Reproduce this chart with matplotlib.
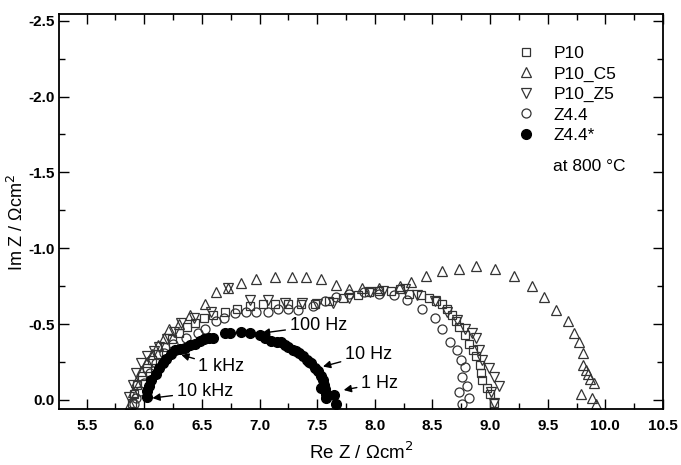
import matplotlib.pyplot as plt

plt.rcParams['font.family'] = ['Liberation Sans', 'DejaVu Sans']
plt.rcParams['axes.unicode_minus'] = False

# Re Z, -Im Z (Ohm cm2)
p10_re = [5.89, 5.91, 5.94, 5.98, 6.02, 6.07, 6.12, 6.18, 6.24, 6.30, 6.37, 6.44, 6.52, 6.60, 6.70,
          6.80, 6.92, 7.03, 7.13, 7.25, 7.36, 7.48, 7.60, 7.72, 7.85, 7.95, 8.04, 8.14, 8.22, 8.30,
          8.40, 8.47, 8.53, 8.58, 8.63, 8.67, 8.70, 8.73, 8.78, 8.82, 8.85, 8.88, 8.91, 8.92, 8.93,
          8.97, 9.00, 9.03]
p10_im = [-0.02, 0.04, 0.10, 0.16, 0.21, 0.26, 0.30, 0.35, 0.40, 0.44, 0.48, 0.51, 0.54, 0.56, 0.58,
          0.60, 0.62, 0.63, 0.63, 0.63, 0.63, 0.63, 0.65, 0.67, 0.69, 0.71, 0.72, 0.72, 0.73, 0.70,
          0.69, 0.67, 0.65, 0.63, 0.60, 0.56, 0.52, 0.48, 0.43, 0.37, 0.33, 0.29, 0.23, 0.18, 0.13,
          0.08, 0.04, -0.02]

p10c5_re = [5.88, 5.90, 5.93, 5.97, 6.02, 6.07, 6.12, 6.17, 6.21, 6.30, 6.40, 6.53, 6.62, 6.73, 6.84,
            6.97, 7.13, 7.28, 7.40, 7.53, 7.66, 7.78, 7.89, 8.04, 8.22, 8.31, 8.44, 8.58, 8.73, 8.88,
            9.04, 9.21, 9.36, 9.47, 9.57, 9.68, 9.73, 9.77, 9.81, 9.81, 9.83, 9.85, 9.87, 9.90, 9.79,
            9.88, 9.92]
p10c5_im = [-0.03, 0.05, 0.12, 0.19, 0.25, 0.30, 0.36, 0.41, 0.47, 0.50, 0.56, 0.63, 0.71, 0.74, 0.77,
            0.80, 0.81, 0.81, 0.81, 0.80, 0.76, 0.73, 0.74, 0.74, 0.75, 0.78, 0.82, 0.85, 0.86, 0.88,
            0.86, 0.82, 0.75, 0.68, 0.59, 0.52, 0.44, 0.38, 0.31, 0.23, 0.20, 0.17, 0.14, 0.11, 0.04,
            0.01, -0.03]

p10z5_re = [5.87, 5.90, 5.93, 5.97, 6.02, 6.08, 6.13, 6.20, 6.26, 6.32, 6.43, 6.58, 6.73, 6.92, 7.07,
            7.22, 7.37, 7.50, 7.64, 7.78, 7.96, 8.07, 8.26, 8.37, 8.52, 8.63, 8.71, 8.78, 8.84, 8.88,
            8.90, 8.93, 8.99, 9.03, 9.08, 9.01, 9.03]
p10z5_im = [0.02, 0.10, 0.18, 0.24, 0.29, 0.32, 0.35, 0.40, 0.45, 0.51, 0.54, 0.58, 0.74, 0.66, 0.66,
            0.64, 0.64, 0.63, 0.64, 0.67, 0.71, 0.72, 0.73, 0.69, 0.65, 0.58, 0.53, 0.47, 0.44, 0.41,
            0.33, 0.26, 0.21, 0.15, 0.09, 0.05, -0.02]

z44_re = [5.91, 5.93, 5.96, 6.00, 6.05, 6.10, 6.17, 6.25, 6.36, 6.47, 6.53, 6.62, 6.69, 6.79, 6.88,
          6.97, 7.07, 7.16, 7.25, 7.33, 7.46, 7.57, 7.66, 7.78, 7.91, 8.04, 8.17, 8.28, 8.41, 8.52,
          8.58, 8.65, 8.71, 8.75, 8.78, 8.76, 8.80, 8.73, 8.82, 8.76]
z44_im = [-0.03, 0.01, 0.06, 0.11, 0.18, 0.24, 0.31, 0.37, 0.41, 0.44, 0.47, 0.52, 0.54, 0.57, 0.58,
          0.58, 0.58, 0.60, 0.60, 0.59, 0.62, 0.65, 0.68, 0.70, 0.71, 0.70, 0.69, 0.66, 0.60, 0.54,
          0.47, 0.38, 0.33, 0.26, 0.22, 0.15, 0.09, 0.05, 0.01, -0.03]

z44s_re = [6.02, 6.02, 6.04, 6.06, 6.10, 6.13, 6.16, 6.19, 6.23, 6.27, 6.31, 6.35, 6.40, 6.44, 6.48,
           6.52, 6.56, 6.60, 6.70, 6.74, 6.84, 6.92, 7.00, 7.05, 7.10, 7.15, 7.19, 7.22, 7.25, 7.29,
           7.32, 7.34, 7.38, 7.41, 7.43, 7.45, 7.48, 7.51, 7.53, 7.55, 7.56, 7.57, 7.53, 7.58, 7.58,
           7.65, 7.66]
z44s_im = [0.02, 0.06, 0.09, 0.13, 0.17, 0.21, 0.24, 0.27, 0.30, 0.33, 0.335, 0.34, 0.36, 0.37, 0.39,
           0.40, 0.41, 0.41, 0.44, 0.44, 0.45, 0.44, 0.43, 0.41, 0.39, 0.38, 0.38, 0.36, 0.35, 0.33,
           0.32, 0.31, 0.29, 0.26, 0.25, 0.24, 0.21, 0.19, 0.16, 0.13, 0.10, 0.07, 0.08, 0.04, 0.01,
           0.03, -0.03]

# frequency labels: text, text position, arrow tip
freq_labels = ['100 Hz', '10 Hz', '1 kHz', '10 kHz', '1 Hz']
freq_text_xy = [(7.26, 0.49), (7.74, 0.30), (6.47, 0.22), (6.28, 0.055), (7.88, 0.11)]
freq_tip_xy = [(7.02, 0.44), (7.55, 0.22), (6.32, 0.297), (6.07, 0.012), (7.73, 0.065)]

fig = plt.figure(figsize=(6.81, 4.65), dpi=100)
ax = fig.add_axes([59 / 681, 56 / 465, 604 / 681, 395 / 465])

ec = '#333333'
ax.plot(p10_re, [-v for v in p10_im], 's', ms=6, mfc='none', mec=ec, mew=0.9, label='P10')
ax.plot(p10c5_re, [-v for v in p10c5_im], '^', ms=7.5, mfc='none', mec=ec, mew=0.9, label='P10_C5')
ax.plot(p10z5_re, [-v for v in p10z5_im], 'v', ms=7.5, mfc='none', mec=ec, mew=0.9, label='P10_Z5')
ax.plot(z44_re, [-v for v in z44_im], 'o', ms=6.5, mfc='none', mec=ec, mew=0.9, label='Z4.4')
ax.plot(z44s_re, [-v for v in z44s_im], 'o', ms=7, color='black', label='Z4.4*')

for lab, (tx, ty), (px, py) in zip(freq_labels, freq_text_xy, freq_tip_xy):
    ax.annotate(lab, xy=(px, -py), xytext=(tx, -ty), fontsize=13, va='center', ha='left',
                arrowprops=dict(arrowstyle='-|>', color='black', lw=1, mutation_scale=11,
                                shrinkA=1, shrinkB=0))

ax.set_xlim(5.26, 10.5)
ax.set_ylim(0.06, -2.544)
ax.set_xticks([5.5, 6.0, 6.5, 7.0, 7.5, 8.0, 8.5, 9.0, 9.5, 10.0, 10.5])
ax.set_xticks([5.75 + 0.5 * i for i in range(10)], minor=True)
ax.set_yticks([0.0, -0.5, -1.0, -1.5, -2.0, -2.5])
ax.set_yticks([-0.25, -0.75, -1.25, -1.75, -2.25], minor=True)
ax.set_yticklabels(['0.0', '-0.5', '-1.0', '-1.5', '-2.0', '-2.5'])

ax.tick_params(which='both', direction='in', top=True, right=True, width=1)
ax.tick_params(which='major', length=7)
ax.tick_params(which='minor', length=4)
ax.tick_params(axis='x', pad=7, labelsize=11)
ax.tick_params(axis='y', pad=3, labelsize=11)
for lbl in ax.get_xticklabels() + ax.get_yticklabels():
    lbl.set_fontweight('bold')
for sp in ax.spines.values():
    sp.set_linewidth(1.3)

fig.text(361 / 681, 1 - 452 / 465, 'Re Z / Ωcm$^2$', fontsize=13.5, ha='center', va='center')
fig.text(17 / 681, 1 - 222 / 465, 'Im Z / Ωcm$^2$', fontsize=13, ha='center', va='center',
         rotation=90)

ax.legend(loc='upper left', bbox_to_anchor=(0.759, 0.919), frameon=False, fontsize=12.5,
          handlelength=1, handletextpad=1.1, labelspacing=0.3, borderpad=0, borderaxespad=0)
ax.text(0.818, 0.613, 'at 800 °C', transform=ax.transAxes, fontsize=12.5, va='center')

fig.savefig('out.png', dpi=100)
